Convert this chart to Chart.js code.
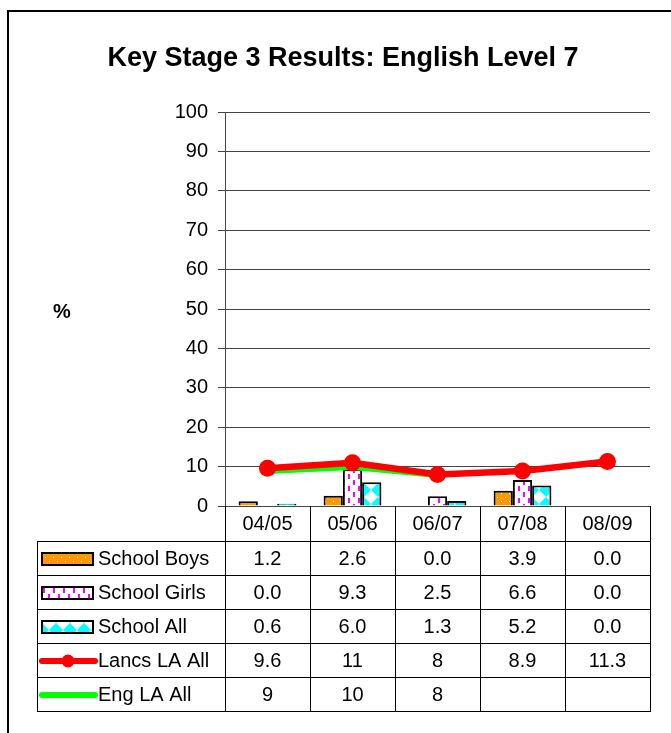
<!DOCTYPE html>
<html>
<head>
<meta charset="utf-8">
<title>Key Stage 3 Results: English Level 7</title>
<script src="https://cdn.jsdelivr.net/npm/chart.js@4.4.1/dist/chart.umd.min.js"></script>
<style>
  html, body { margin: 0; padding: 0; background: #fff; overflow: hidden; }
  canvas { display: block; }
</style>
</head>
<body>
<canvas id="ks3Chart" width="671" height="733"></canvas>
<script>
// Dados do gráfico
const categories = ['04/05', '05/06', '06/07', '07/08', '08/09'];
const schoolBoys = [1.2, 2.6, 0.0, 3.9, 0.0];
const schoolGirls = [0.0, 9.3, 2.5, 6.6, 0.0];
const schoolAll = [0.6, 6.0, 1.3, 5.2, 0.0];
const lancsLA = [9.6, 11, 8, 8.9, 11.3];
const engLA = [9, 10, 8, null, null];

// Texto da tabela (como aparece na imagem)
const boysText = ['1.2', '2.6', '0.0', '3.9', '0.0'];
const girlsText = ['0.0', '9.3', '2.5', '6.6', '0.0'];
const allText = ['0.6', '6.0', '1.3', '5.2', '0.0'];
const lancsText = ['9.6', '11', '8', '8.9', '11.3'];
const engText = ['9', '10', '8', '', ''];

const FONT = "'Liberation Sans', Arial, Helvetica, sans-serif";
Chart.defaults.font.family = FONT;
Chart.defaults.color = '#000';

// Cria um padrão de preenchimento a partir de um pequeno canvas
function makePattern(w, h, draw) {
    const c = document.createElement('canvas');
    c.width = w;
    c.height = h;
    const g = c.getContext('2d');
    draw(g);
    return g.createPattern(c, 'repeat');
}

const boysPattern = makePattern(8, 8, g => {
    g.fillStyle = '#FF9900';
    g.fillRect(0, 0, 8, 8);
    g.fillStyle = '#fff';
    g.fillRect(1, 1, 1, 1);
    g.fillRect(5, 5, 1, 1);
});

const girlsPattern = makePattern(10, 12, g => {
    g.fillStyle = '#fff';
    g.fillRect(0, 0, 10, 12);
    g.fillStyle = '#FF00FF';
    g.fillRect(3, 0, 2, 5);
    g.fillRect(8, 6, 2, 5);
});

const allPattern = makePattern(14, 14, g => {
    g.fillStyle = '#00FFFF';
    g.fillRect(0, 0, 14, 14);
    g.fillStyle = '#fff';
    g.beginPath();
    g.moveTo(7, 0);
    g.lineTo(14, 7);
    g.lineTo(7, 14);
    g.lineTo(0, 7);
    g.closePath();
    g.fill();
});

// Linhas da tabela de dados
const tableRows = [
    { label: 'School Boys', type: 'bar', fill: boysPattern, values: boysText },
    { label: 'School Girls', type: 'bar', fill: girlsPattern, values: girlsText },
    { label: 'School All', type: 'bar', fill: allPattern, values: allText },
    { label: 'Lancs LA All', type: 'line', color: '#FF0000', dot: true, values: lancsText },
    { label: 'Eng LA All', type: 'line', color: '#00FF00', dot: false, values: engText }
];

// Plugin: fundo, moldura, título, "%" e tabela de dados
const decorPlugin = {
    id: 'decor',
    beforeDraw(chart) {
        const ctx = chart.ctx;
        ctx.save();
        ctx.fillStyle = '#fff';
        ctx.fillRect(0, 0, chart.width, chart.height);
        ctx.restore();
    },
    afterDraw(chart) {
        const ctx = chart.ctx;
        const area = chart.chartArea;
        const xScale = chart.scales.x;
        ctx.save();

        // moldura externa
        ctx.strokeStyle = '#000';
        ctx.lineWidth = 2;
        ctx.strokeRect(8, 11, 720, 780);

        // título
        ctx.fillStyle = '#000';
        ctx.font = 'bold 27px ' + FONT;
        ctx.textAlign = 'center';
        ctx.textBaseline = 'middle';
        ctx.fillText('Key Stage 3 Results: English Level 7', 343, 59);

        // rótulo do eixo
        ctx.font = 'bold 20px ' + FONT;
        ctx.fillText('%', 62, 312);

        // tabela
        const n = categories.length;
        const colW = (area.right - area.left) / n;
        const headerH = 35;
        const rowH = 34;
        const legendLeft = 37;
        const top = area.bottom;
        const firstRow = top + headerH;
        const bottom = firstRow + rowH * tableRows.length;

        ctx.strokeStyle = '#000';
        ctx.lineWidth = 1;
        ctx.beginPath();
        // linhas verticais
        for (let i = 0; i <= n; i++) {
            const x = Math.round(area.left + colW * i) + 0.5;
            ctx.moveTo(x, top);
            ctx.lineTo(x, bottom);
        }
        ctx.moveTo(legendLeft + 0.5, firstRow);
        ctx.lineTo(legendLeft + 0.5, bottom);
        // linhas horizontais
        for (let r = 0; r <= tableRows.length; r++) {
            const y = Math.round(firstRow + rowH * r) + 0.5;
            ctx.moveTo(legendLeft, y);
            ctx.lineTo(area.right + 1, y);
        }
        ctx.stroke();

        ctx.font = '20px ' + FONT;
        ctx.textBaseline = 'middle';
        ctx.textAlign = 'center';
        categories.forEach((c, i) => {
            ctx.fillText(c, xScale.getPixelForValue(i), top + headerH / 2 + 1);
        });

        tableRows.forEach((row, r) => {
            const cy = firstRow + rowH * r + rowH / 2 + 1;
            // símbolo da legenda
            if (row.type === 'bar') {
                ctx.fillStyle = row.fill;
                ctx.fillRect(42, cy - 6, 51, 12);
                ctx.strokeStyle = '#000';
                ctx.lineWidth = 2;
                ctx.strokeRect(42, cy - 6, 51, 12);
            } else {
                ctx.strokeStyle = row.color;
                ctx.lineWidth = 6;
                ctx.lineCap = 'round';
                ctx.beginPath();
                ctx.moveTo(42, cy);
                ctx.lineTo(95, cy);
                ctx.stroke();
                if (row.dot) {
                    ctx.fillStyle = row.color;
                    ctx.beginPath();
                    ctx.arc(68, cy, 6.5, 0, Math.PI * 2);
                    ctx.fill();
                }
            }
            ctx.fillStyle = '#000';
            ctx.textAlign = 'left';
            ctx.fillText(row.label, 98, cy);
            ctx.textAlign = 'center';
            row.values.forEach((v, i) => {
                if (v !== '') ctx.fillText(v, xScale.getPixelForValue(i), cy);
            });
        });

        ctx.restore();
    }
};

const ctx = document.getElementById('ks3Chart').getContext('2d');
new Chart(ctx, {
    type: 'bar',
    data: {
        labels: categories,
        datasets: [
            {
                type: 'line',
                label: 'Lancs LA All',
                data: lancsLA,
                borderColor: '#FF0000',
                backgroundColor: '#FF0000',
                borderWidth: 6.5,
                pointRadius: 8.5,
                pointBorderWidth: 0,
                tension: 0,
                order: 0
            },
            {
                type: 'line',
                label: 'Eng LA All',
                data: engLA,
                borderColor: '#00FF00',
                backgroundColor: '#00FF00',
                borderWidth: 7,
                pointRadius: 0,
                tension: 0,
                order: 1
            },
            {
                label: 'School Boys',
                data: schoolBoys,
                backgroundColor: boysPattern,
                borderColor: '#000',
                borderWidth: 2,
                order: 2
            },
            {
                label: 'School Girls',
                data: schoolGirls,
                backgroundColor: girlsPattern,
                borderColor: '#000',
                borderWidth: 2,
                order: 2
            },
            {
                label: 'School All',
                data: schoolAll,
                backgroundColor: allPattern,
                borderColor: '#000',
                borderWidth: 2,
                order: 2
            }
        ]
    },
    options: {
        responsive: false,
        animation: false,
        layout: {
            padding: { top: 112, right: 21, bottom: 227, left: 0 }
        },
        datasets: {
            bar: { barPercentage: 1, categoryPercentage: 0.68 }
        },
        plugins: {
            legend: { display: false },
            title: { display: false },
            tooltip: { enabled: false }
        },
        scales: {
            x: {
                display: false,
                offset: true
            },
            y: {
                min: 0,
                max: 100,
                afterFit(scale) { scale.width = 225; },
                ticks: {
                    stepSize: 10,
                    padding: 10,
                    font: { size: 20 },
                    color: '#000'
                },
                grid: {
                    color: '#444',
                    lineWidth: 1,
                    tickLength: 7
                },
                border: { color: '#444', width: 1 }
            }
        }
    },
    plugins: [decorPlugin]
});
</script>
</body>
</html>
